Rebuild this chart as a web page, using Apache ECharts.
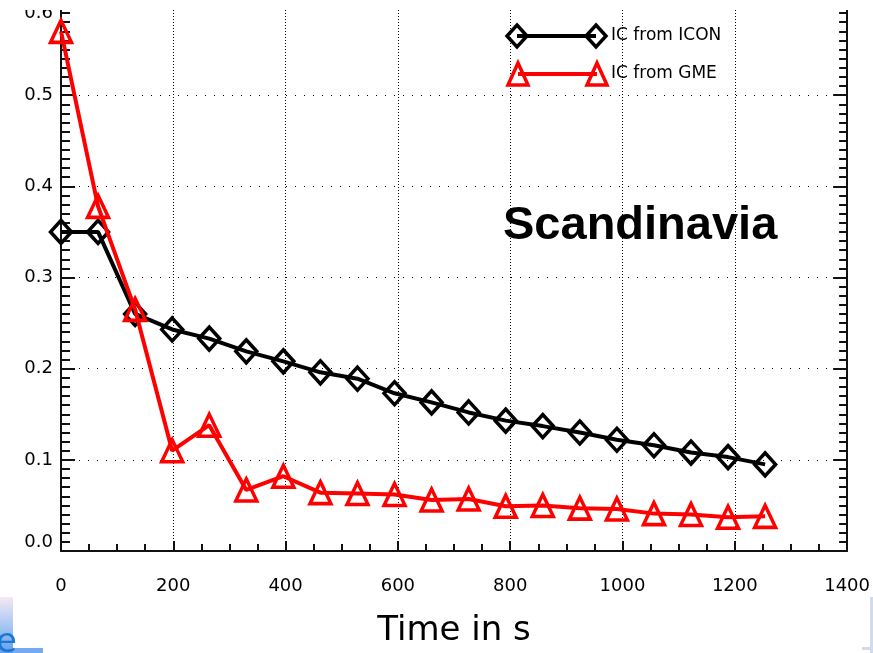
<!DOCTYPE html>
<html>
<head>
<meta charset="utf-8">
<script src="https://cdn.jsdelivr.net/npm/echarts@6/dist/echarts.min.js"></script>
<style>
html,body{margin:0;padding:0;background:#fff;}
#c{width:873px;height:653px;}
</style>
</head>
<body>
<div id="c"></div>
<script>
// Time in seconds
const timeValues = [0, 66, 132, 198, 264, 330, 396, 462, 528, 594, 660, 726, 792, 858, 924, 990, 1056, 1122, 1188, 1254];
// IC from ICON (black diamonds)
const icFromIcon = [0.350, 0.350, 0.260, 0.243, 0.233, 0.219, 0.208, 0.196, 0.189, 0.173, 0.163, 0.152, 0.143, 0.137, 0.130, 0.122, 0.116, 0.108, 0.103, 0.095];
// IC from GME (red triangles)
const icFromGme = [0.570, 0.378, 0.265, 0.110, 0.138, 0.067, 0.082, 0.064, 0.063, 0.062, 0.056, 0.057, 0.049, 0.050, 0.047, 0.046, 0.041, 0.040, 0.037, 0.038];
const xTicks = [0, 200, 400, 600, 800, 1000, 1200, 1400];
const yTicks = ['0.0', '0.1', '0.2', '0.3', '0.4', '0.5', '0.6'];
const seriesNames = ['IC from ICON', 'IC from GME'];
const regionLabel = 'Scandinavia';
const xTitle = 'Time in s';

const tickFont = 'DejaVu Sans';
const chart = echarts.init(document.getElementById('c'), null, {renderer: 'canvas'});

function pairs(xs, ys) { return xs.map((x, i) => [x, ys[i]]); }

const axisColor = '#111';
const option = {
  backgroundColor: '#ffffff',
  animation: false,
  grid: {left: 61, right: 25, top: 4, bottom: 95, containLabel: false},
  xAxis: {
    type: 'value',
    min: xTicks[0], max: xTicks[xTicks.length - 1], interval: 200,
    name: xTitle, nameLocation: 'middle', nameGap: 63,
    nameTextStyle: {fontFamily: tickFont, fontSize: 34, color: '#000'},
    axisLine: {show: true, onZero: false, lineStyle: {color: axisColor, width: 2}},
    axisTick: {show: true, inside: true, length: 10, lineStyle: {color: axisColor, width: 2}},
    minorTick: {show: true, splitNumber: 4, length: 7, lineStyle: {color: axisColor, width: 2}},
    axisLabel: {
      margin: 26, fontFamily: tickFont, fontSize: 18, color: '#000',
      formatter: v => String(v)
    },
    splitLine: {show: true, lineStyle: {color: '#000', type: [1, 2], width: 1}}
  },
  yAxis: [{
    type: 'value',
    min: 0, max: 0.6, interval: 0.1,
    axisLine: {show: true, onZero: false, lineStyle: {color: axisColor, width: 2}},
    axisTick: {show: true, inside: true, length: 14, lineStyle: {color: axisColor, width: 2}},
    minorTick: {show: true, splitNumber: 10, length: 9, lineStyle: {color: axisColor, width: 2}},
    axisLabel: {
      margin: 8, fontFamily: tickFont, fontSize: 18, color: '#000',
      formatter: v => yTicks[Math.round(v * 10)] || '',
      verticalAlignMinLabel: 'bottom', verticalAlignMaxLabel: 'top'
    },
    splitLine: {show: true, lineStyle: {color: '#000', type: [1, 8], width: 1}}
  }, {
    type: 'value', position: 'right',
    min: 0, max: 0.6, interval: 0.1,
    axisLine: {show: true, onZero: false, lineStyle: {color: axisColor, width: 2}},
    axisTick: {show: true, inside: true, length: 14, lineStyle: {color: axisColor, width: 2}},
    minorTick: {show: true, splitNumber: 10, length: 8, lineStyle: {color: axisColor, width: 2}},
    axisLabel: {show: false},
    splitLine: {show: false}
  }],
  series: [{
    name: seriesNames[0], type: 'line', yAxisIndex: 0,
    data: pairs(timeValues, icFromIcon),
    symbol: 'diamond', symbolSize: [21, 23],
    lineStyle: {color: '#000', width: 4},
    itemStyle: {color: 'rgba(255,255,255,0)', borderColor: '#000', borderWidth: 3.5},
    z: 3
  }, {
    name: seriesNames[1], type: 'line', yAxisIndex: 0,
    data: pairs(timeValues, icFromGme),
    symbol: 'triangle', symbolSize: [21, 22],
    lineStyle: {color: '#ff0000', width: 4},
    itemStyle: {color: 'rgba(255,255,255,0)', borderColor: '#ff0000', borderWidth: 3.5},
    z: 4
  }],
  graphic: [
    // top crop
    {type: 'rect', shape: {x: 0, y: 0, width: 873, height: 10}, style: {fill: '#fff'}, z: 100},
    // legend: ICON
    {type: 'line', shape: {x1: 517, y1: 36, x2: 596, y2: 36}, style: {stroke: '#000', lineWidth: 4}, z: 50},
    {type: 'polygon', shape: {points: [[517, 25], [527, 36], [517, 47], [507, 36]]}, style: {fill: 'rgba(0,0,0,0)', stroke: '#000', lineWidth: 3.5}, z: 51},
    {type: 'polygon', shape: {points: [[596, 25], [606, 36], [596, 47], [586, 36]]}, style: {fill: 'rgba(0,0,0,0)', stroke: '#000', lineWidth: 3.5}, z: 51},
    {type: 'text', x: 611, y: 36, style: {text: seriesNames[0], fontFamily: tickFont, fontSize: 17, fill: '#000', verticalAlign: 'middle', align: 'left'}, z: 52},
    // legend: GME
    {type: 'line', shape: {x1: 518, y1: 74, x2: 597, y2: 74}, style: {stroke: '#ff0000', lineWidth: 4}, z: 50},
    {type: 'polygon', shape: {points: [[518, 63], [528, 85], [508, 85]]}, style: {fill: 'rgba(0,0,0,0)', stroke: '#ff0000', lineWidth: 3.5}, z: 51},
    {type: 'polygon', shape: {points: [[597, 63], [607, 85], [587, 85]]}, style: {fill: 'rgba(0,0,0,0)', stroke: '#ff0000', lineWidth: 3.5}, z: 51},
    {type: 'text', x: 611, y: 74, style: {text: seriesNames[1], fontFamily: tickFont, fontSize: 17, fill: '#000', verticalAlign: 'middle', align: 'left'}, z: 52},
    // region label
    {type: 'text', x: 503, y: 226, style: {text: regionLabel, fontFamily: 'Liberation Sans', fontWeight: 'bold', fontSize: 47, fill: '#000', verticalAlign: 'middle', align: 'left'}, z: 52},
    // slide background fragments
    {type: 'rect', shape: {x: 0, y: 597, width: 13, height: 56}, style: {fill: new echarts.graphic.LinearGradient(0, 0, 0, 1, [{offset: 0, color: '#f6e8f4'}, {offset: 0.5, color: '#a9c8f2'}, {offset: 1, color: '#5f9ef0'}])}, z: 40},
    {type: 'rect', shape: {x: 13, y: 648, width: 30, height: 5}, style: {fill: '#76aaf0'}, z: 40},
    {type: 'text', x: -4, y: 643, style: {text: 'e', fontFamily: tickFont, fontSize: 34, fill: '#1a78d0', verticalAlign: 'middle', align: 'left'}, z: 41},
    {type: 'rect', shape: {x: 870, y: 597, width: 3, height: 56}, style: {fill: '#d2dbee'}, z: 40},
    {type: 'rect', shape: {x: 862, y: 647, width: 11, height: 3}, style: {fill: '#d2dbee'}, z: 40}
  ]
};
chart.setOption(option);
</script>
</body>
</html>
